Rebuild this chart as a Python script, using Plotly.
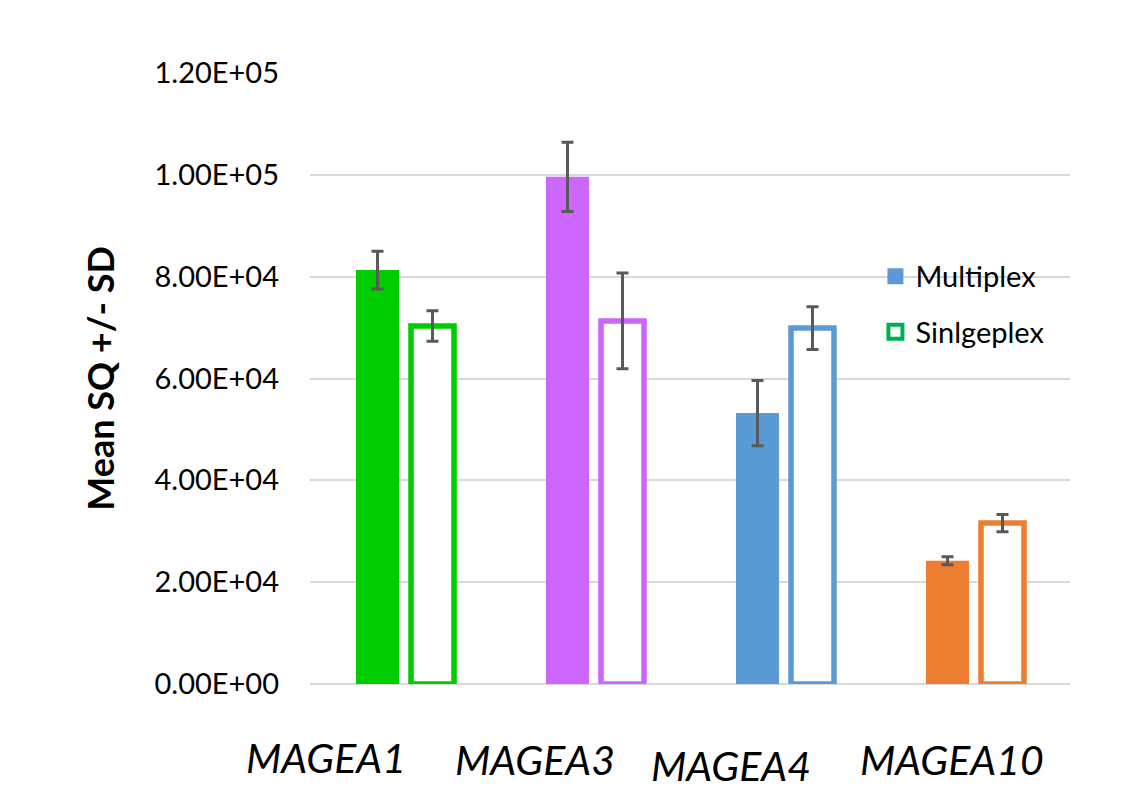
import plotly.graph_objects as go

categories = ["MAGEA1", "MAGEA3", "MAGEA4", "MAGEA10"]
multiplex = [81300, 99600, 53200, 24200]
multiplex_sd = [3700, 6800, 6400, 800]
singleplex = [70300, 71300, 69900, 31600]
singleplex_sd = [3000, 9400, 4200, 1700]
colors = ["#00CC00", "#CC66FF", "#5B9BD5", "#ED7D31"]
tick_vals = [0, 20000, 40000, 60000, 80000, 100000, 120000]
tick_text = ["0.00E+00", "2.00E+04", "4.00E+04", "6.00E+04", "8.00E+04", "1.00E+05", "1.20E+05"]
label_shift_x = [-79, -60, -54, -23]
label_shift_y = [-73, -75, -81, -75]

err_style = dict(type="data", visible=True, color="#595959", thickness=3, width=6)

fig = go.Figure()
fig.add_trace(go.Bar(
    x=categories, y=multiplex, name="Multiplex", showlegend=False,
    marker=dict(color=colors, line=dict(width=0)),
    error_y=dict(array=multiplex_sd, **err_style),
))
fig.add_trace(go.Bar(
    x=categories, y=singleplex, name="Sinlgeplex", showlegend=False,
    marker=dict(color="white", line=dict(color=colors, width=5.5)),
    error_y=dict(array=singleplex_sd, **err_style),
))
# legend entries
fig.add_trace(go.Scatter(
    x=[None], y=[None], mode="markers", name="Multiplex", legendgroup="a",
    marker=dict(symbol="square", size=16, color="#5B9BD5"),
))
fig.add_trace(go.Scatter(
    x=[None], y=[None], mode="markers", name="Sinlgeplex", legendgroup="b",
    marker=dict(symbol="square", size=14, color="white", line=dict(color="#00B050", width=4)),
))

for cat, dx, dy in zip(categories, label_shift_x, label_shift_y):
    fig.add_annotation(
        x=cat, y=0, xref="x", yref="y", text=f"<i>{cat}</i>", showarrow=False,
        xanchor="center", yanchor="middle", xshift=dx, yshift=dy,
        font=dict(family="Lato", size=41, color="black"),
    )

fig.update_layout(
    width=1119, height=782,
    margin=dict(l=302, r=57, t=65, b=106),
    paper_bgcolor="white", plot_bgcolor="white",
    barmode="group", bargap=0.421, bargroupgap=0.218,
    font=dict(family="Lato", size=29, color="black"),
    legend=dict(x=0.744, y=0.709, xanchor="left", yanchor="top",
                font=dict(family="Lato", size=29, color="black"),
                tracegroupgap=15, traceorder="grouped", bgcolor="rgba(0,0,0,0)"),
    xaxis=dict(type="category", categoryorder="array", categoryarray=categories,
               showticklabels=False, showgrid=False, zeroline=False, showline=False,
               range=[-0.5, 3.5]),
    yaxis=dict(range=[0, 120000], tickvals=tick_vals, ticktext=tick_text,
               showgrid=True, gridcolor="#D9D9D9", gridwidth=2,
               zeroline=True, zerolinecolor="#D9D9D9", zerolinewidth=2,
               showline=False, ticklabelstandoff=30,
               tickfont=dict(family="Lato", size=29, color="black"),
               title=dict(text="<b>Mean SQ +/- SD</b>", standoff=28,
                          font=dict(family="Lato", size=36, color="black"))),
)

fig.write_html("out.html")
